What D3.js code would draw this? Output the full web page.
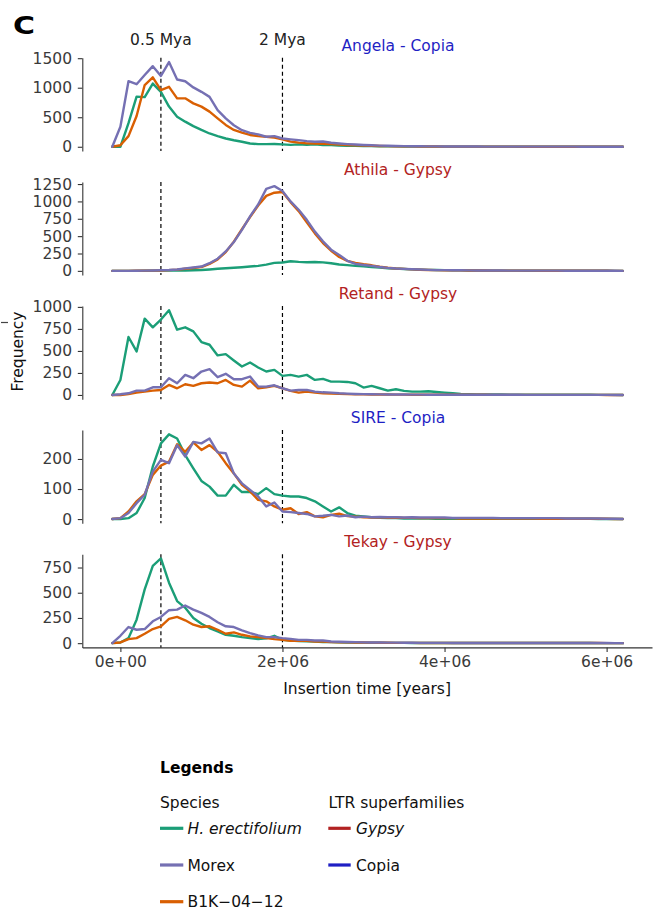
<!DOCTYPE html>
<html>
<head>
<meta charset="utf-8">
<script src="https://cdn.jsdelivr.net/npm/d3@7"></script>
<style>
  body { margin: 0; background: #fff; }
  text { font-family: "DejaVu Sans", sans-serif; }
</style>
</head>
<body>
<svg id="chart" width="659" height="915"></svg>
<script>
// Insertion-time bins (years), 100 kyr wide, from -0.1 Myr to 6.2 Myr
const binCenters = d3.range(-1, 63).map(k => k * 1e5);

// LTR families and their superfamily
const families = ["Angela", "Athila", "Retand", "SIRE", "Tekay"];
const superfamilies = ["Copia", "Gypsy", "Gypsy", "Copia", "Gypsy"];

// Species (legend order) and colours
const species = ["H. erectifolium", "Morex", "B1K\u221204\u221212"];
const speciesColors = ["#1B9E77", "#7570B3", "#D95F02"];
const superfamilyNames = ["Gypsy", "Copia"];
const superfamilyColors = { Gypsy: "#B22222", Copia: "#1F1FC4" };

// Frequencies per bin, one array per family and species
const angelaHe = [0, 0, 400, 850, 840, 1070, 930, 680, 510, 425,
  350, 285, 225, 180, 140, 110, 85, 55, 45, 45,
  48, 40, 32, 40, 35, 40, 30, 28, 22, 18,
  15, 12, 10, 8, 7, 6, 5, 4, 4, 3,
  3, 3, 3, 2, 2, 2, 2, 2, 2, 2,
  1, 1, 1, 1, 1, 1, 1, 1, 1, 1,
  1, 0, 0, 0];
const angelaMorex = [0, 340, 1110, 1060, 1215, 1365, 1200, 1435, 1140, 1110,
  1005, 930, 845, 620, 480, 365, 280, 235, 210, 170,
  180, 140, 125, 112, 96, 85, 90, 68, 55, 45,
  38, 30, 25, 20, 16, 13, 11, 9, 8, 7,
  6, 5, 5, 4, 4, 4, 3, 3, 3, 3,
  3, 2, 2, 2, 2, 2, 2, 2, 1, 1,
  1, 1, 1, 0];
const angelaB1K = [0, 25, 180, 520, 1045, 1175, 960, 1015, 820, 820,
  735, 680, 595, 480, 370, 285, 240, 200, 180, 170,
  155, 125, 88, 70, 58, 55, 50, 45, 38, 30,
  25, 20, 16, 13, 10, 8, 7, 6, 5, 4,
  4, 3, 3, 3, 2, 2, 2, 2, 2, 2,
  2, 1, 1, 1, 1, 1, 1, 1, 1, 1,
  1, 1, 0, 0];

const athilaHe = [0, 0, 0, 0, 1, 2, 3, 4, 5, 6,
  8, 12, 20, 30, 38, 45, 53, 62, 72, 90,
  115, 120, 138, 130, 125, 128, 122, 110, 92, 82,
  72, 65, 55, 46, 38, 32, 26, 21, 17, 14,
  12, 10, 8, 7, 6, 5, 4, 4, 3, 3,
  3, 2, 2, 2, 2, 2, 1, 1, 1, 1,
  1, 1, 0, 0];
const athilaMorex = [0, 0, 0, 2, 3, 5, 8, 12, 20, 35,
  48, 62, 110, 175, 280, 415, 590, 785, 955, 1180,
  1220, 1150, 1000, 880, 735, 565, 425, 305, 230, 145,
  100, 85, 72, 55, 43, 34, 28, 24, 19, 14,
  11, 10, 9, 8, 7, 6, 6, 5, 5, 4,
  4, 4, 3, 3, 3, 3, 2, 2, 2, 2,
  2, 1, 1, 0];
const athilaB1K = [0, 0, 0, 2, 3, 4, 6, 10, 18, 30,
  42, 55, 100, 165, 270, 420, 600, 775, 940, 1080,
  1125, 1135, 990, 860, 700, 540, 400, 290, 200, 145,
  115, 95, 80, 60, 45, 35, 28, 22, 17, 13,
  10, 9, 8, 7, 6, 5, 5, 4, 4, 3,
  3, 3, 3, 2, 2, 2, 2, 2, 1, 1,
  1, 1, 0, 0];

const retandHe = [0, 170, 658, 494, 867, 768, 856, 962, 741, 768,
  722, 601, 570, 449, 464, 392, 323, 369, 312, 266,
  285, 217, 228, 209, 228, 171, 183, 152, 152, 148,
  133, 84, 103, 76, 49, 65, 46, 38, 38, 42,
  34, 27, 19, 11, 8, 7, 6, 5, 5, 4,
  4, 3, 3, 3, 3, 2, 2, 2, 2, 2,
  1, 1, 1, 0];
const retandMorex = [0, 8, 19, 49, 49, 87, 87, 190, 133, 228,
  190, 266, 293, 202, 240, 179, 179, 209, 95, 95,
  110, 76, 49, 57, 57, 38, 30, 27, 19, 15,
  11, 9, 8, 7, 6, 5, 5, 4, 4, 3,
  3, 3, 3, 2, 2, 2, 2, 2, 2, 2,
  2, 1, 1, 1, 1, 1, 1, 1, 1, 1,
  1, 1, 0, 0];
const retandB1K = [0, 0, 11, 27, 38, 49, 57, 114, 76, 122,
  103, 133, 141, 133, 171, 114, 95, 163, 76, 87,
  103, 76, 46, 27, 38, 27, 19, 15, 12, 10,
  8, 7, 6, 5, 5, 4, 4, 3, 3, 3,
  2, 2, 2, 2, 2, 2, 2, 1, 1, 1,
  1, 1, 1, 1, 1, 1, 1, 1, 1, 1,
  1, 0, 0, 0];

const sireHe = [0, 0, 3, 20, 70, 175, 252, 282, 268, 213,
  169, 127, 108, 78, 78, 114, 90, 90, 83, 103,
  83, 78, 75, 75, 70, 59, 42, 25, 39, 20,
  11, 9, 6, 4, 3, 3, 2, 2, 2, 2,
  1, 1, 1, 1, 1, 1, 1, 1, 1, 1,
  1, 1, 1, 1, 1, 1, 1, 1, 1, 1,
  0, 0, 0, 0];
const sireMorex = [0, 3, 20, 53, 81, 158, 197, 186, 246, 208,
  257, 252, 268, 222, 219, 152, 119, 97, 75, 42,
  55, 25, 23, 20, 17, 9, 11, 14, 9, 12,
  6, 8, 6, 7, 6, 6, 5, 6, 5, 5,
  5, 5, 4, 4, 4, 4, 4, 4, 3, 3,
  3, 3, 3, 3, 3, 3, 2, 2, 2, 2,
  2, 1, 1, 0];
const sireB1K = [0, 3, 25, 59, 83, 147, 178, 191, 249, 224,
  255, 230, 246, 224, 186, 152, 114, 92, 64, 59,
  42, 31, 36, 17, 23, 9, 6, 14, 18, 10,
  8, 6, 5, 6, 4, 5, 4, 4, 3, 3,
  3, 3, 3, 2, 2, 2, 2, 2, 2, 2,
  2, 2, 2, 1, 1, 1, 1, 1, 1, 1,
  1, 1, 0, 0];

const tekayHe = [0, 7, 50, 233, 533, 767, 840, 600, 417, 350,
  250, 193, 150, 117, 83, 73, 60, 50, 40, 47,
  73, 33, 27, 22, 18, 15, 12, 10, 8, 7,
  6, 5, 4, 4, 3, 3, 3, 2, 2, 2,
  2, 2, 2, 1, 1, 1, 1, 1, 1, 1,
  1, 1, 1, 1, 1, 1, 1, 1, 1, 1,
  0, 0, 0, 0];
const tekayMorex = [0, 73, 160, 133, 140, 217, 260, 327, 333, 373,
  333, 300, 260, 207, 167, 160, 127, 100, 77, 60,
  60, 50, 43, 33, 33, 27, 27, 17, 14, 12,
  10, 8, 7, 6, 5, 5, 4, 4, 3, 3,
  3, 3, 2, 2, 2, 2, 2, 2, 2, 2,
  1, 1, 1, 1, 1, 1, 1, 1, 1, 1,
  1, 1, 0, 0];
const tekayB1K = [0, 7, 40, 50, 93, 140, 167, 240, 260, 227,
  183, 160, 167, 133, 93, 107, 83, 67, 60, 50,
  40, 33, 23, 25, 23, 17, 17, 10, 9, 8,
  7, 6, 5, 4, 4, 3, 3, 3, 2, 2,
  2, 2, 2, 2, 1, 1, 1, 1, 1, 1,
  1, 1, 1, 1, 1, 1, 1, 1, 1, 1,
  1, 0, 0, 0];

// Tick values
const yTickValues = [
  [0, 500, 1000, 1500],
  [0, 250, 500, 750, 1000, 1250],
  [0, 250, 500, 750, 1000],
  [0, 100, 200],
  [0, 250, 500, 750]
];
const xTickValues = [0, 2e6, 4e6, 6e6];
const xTickLabels = ["0e+00", "2e+06", "4e+06", "6e+06"];

// Reference ages marked on every panel
const markerAges = [5e5, 2e6];
const markerLabels = ["0.5 Mya", "2 Mya"];

// Series per family, in species order [H. erectifolium, Morex, B1K-04-12]
const familySeries = [
  [angelaHe, angelaMorex, angelaB1K],
  [athilaHe, athilaMorex, athilaB1K],
  [retandHe, retandMorex, retandB1K],
  [sireHe, sireMorex, sireB1K],
  [tekayHe, tekayMorex, tekayB1K]
];
// Draw order: green, orange, purple on top
const drawOrder = [0, 2, 1];

// ---------- layout ----------
const svg = d3.select("#chart");
const FS = 15.5;
const axisX = 82.3, rightX = 652;
const panelTop0 = 57.8, panelStep = 124.1, panelH = 93.2;
const textGrey = "#3a3a3a";

const x = d3.scaleLinear().domain([-0.47e6, 6.56e6]).range([axisX, rightX]);

// Panel letter
svg.append("text")
  .attr("x", 13).attr("y", 33.5)
  .attr("font-size", 25).attr("font-weight", "bold")
  .attr("textLength", 22).attr("lengthAdjust", "spacingAndGlyphs")
  .attr("fill", "#000").text("C");

// Marker labels above the first panel
markerAges.forEach((a, i) => {
  svg.append("text")
    .attr("x", x(a)).attr("y", 44.5)
    .attr("text-anchor", "middle")
    .attr("font-size", FS).attr("fill", "#222")
    .text(markerLabels[i]);
});

const line = d3.line().curve(d3.curveLinear);

families.forEach((fam, p) => {
  const top = panelTop0 + p * panelStep;
  const bottom = top + panelH;
  const series = familySeries[p];
  const maxV = d3.max(series.flat());
  const y = d3.scaleLinear()
    .domain([-0.05 * maxV, 1.05 * maxV])
    .range([bottom, top]);

  const g = svg.append("g");

  // y axis
  const yAxis = d3.axisLeft(y)
    .tickValues(yTickValues[p])
    .tickSize(4.5).tickSizeOuter(0).tickPadding(5.8)
    .tickFormat(d3.format("d"));
  const ya = g.append("g").attr("transform", `translate(${axisX},0)`).call(yAxis);
  ya.select(".domain").attr("stroke", "#333").attr("stroke-width", 1.1);
  ya.selectAll(".tick line").attr("stroke", "#333").attr("stroke-width", 1.1);
  ya.selectAll(".tick text")
    .attr("font-size", FS).attr("fill", textGrey)
    .attr("font-family", "DejaVu Sans, sans-serif");

  // x axis on the bottom panel only
  if (p === families.length - 1) {
    const xAxis = d3.axisBottom(x)
      .tickValues(xTickValues)
      .tickSize(4.5).tickSizeOuter(0).tickPadding(4.5)
      .tickFormat((d, i) => xTickLabels[i]);
    const xa = g.append("g").attr("transform", `translate(0,${bottom})`).call(xAxis);
    xa.select(".domain").attr("stroke", "#333").attr("stroke-width", 1.1);
    xa.selectAll(".tick line").attr("stroke", "#333").attr("stroke-width", 1.1);
    xa.selectAll(".tick text")
      .attr("font-size", FS).attr("fill", textGrey)
      .attr("font-family", "DejaVu Sans, sans-serif");
  }

  // dashed reference ages
  markerAges.forEach(a => {
    g.append("line")
      .attr("x1", x(a)).attr("x2", x(a))
      .attr("y1", top).attr("y2", bottom)
      .attr("stroke", "#000").attr("stroke-width", 1.2)
      .attr("stroke-dasharray", "4,3");
  });

  // frequency polygons
  drawOrder.forEach(s => {
    const pts = binCenters.map((b, i) => [x(b), y(series[s][i])]);
    g.append("path")
      .attr("d", line(pts))
      .attr("fill", "none")
      .attr("stroke", speciesColors[s])
      .attr("stroke-width", 2.4)
      .attr("stroke-linejoin", "round")
      .attr("stroke-linecap", "round");
  });

  // family title
  g.append("text")
    .attr("x", 398).attr("y", top - 7)
    .attr("text-anchor", "middle")
    .attr("font-size", FS)
    .attr("fill", superfamilyColors[superfamilies[p]])
    .text(`${fam} - ${superfamilies[p]}`);
});

// axis titles
svg.append("text")
  .attr("x", (axisX + rightX) / 2).attr("y", 694)
  .attr("text-anchor", "middle").attr("font-size", FS).attr("fill", "#111")
  .text("Insertion time [years]");

svg.append("text")
  .attr("transform", "translate(22.5,351.5) rotate(-90)")
  .attr("text-anchor", "middle").attr("font-size", FS).attr("fill", "#111")
  .text("Frequency");

svg.append("line")
  .attr("x1", 1).attr("x2", 8).attr("y1", 322.5).attr("y2", 322.5)
  .attr("stroke", "#444").attr("stroke-width", 1.2);

// ---------- legend ----------
const lg = svg.append("g");
lg.append("text").attr("x", 160).attr("y", 773)
  .attr("font-size", FS).attr("font-weight", "bold").attr("fill", "#000")
  .text("Legends");
lg.append("text").attr("x", 160).attr("y", 808)
  .attr("font-size", FS).attr("fill", "#111").text("Species");
lg.append("text").attr("x", 328.5).attr("y", 808)
  .attr("font-size", FS).attr("fill", "#111").text("LTR superfamilies");

const rowY = [828.3, 865, 901.7];
species.forEach((sp, i) => {
  lg.append("line")
    .attr("x1", 160).attr("x2", 183.3)
    .attr("y1", rowY[i]).attr("y2", rowY[i])
    .attr("stroke", speciesColors[i]).attr("stroke-width", 3.2);
  lg.append("text")
    .attr("x", 187.5).attr("y", rowY[i] + 5.6)
    .attr("font-size", FS).attr("fill", "#111")
    .attr("font-style", i === 0 ? "italic" : "normal")
    .text(sp);
});
superfamilyNames.forEach((sf, i) => {
  lg.append("line")
    .attr("x1", 328.3).attr("x2", 350.7)
    .attr("y1", rowY[i]).attr("y2", rowY[i])
    .attr("stroke", superfamilyColors[sf]).attr("stroke-width", 3.2);
  lg.append("text")
    .attr("x", 356).attr("y", rowY[i] + 5.6)
    .attr("font-size", FS).attr("fill", "#111")
    .attr("font-style", sf === "Gypsy" ? "italic" : "normal")
    .text(sf);
});
</script>
</body>
</html>
